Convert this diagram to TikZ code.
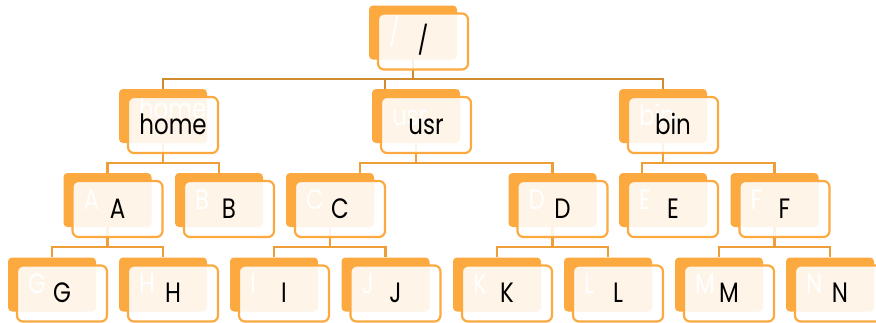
\documentclass[tikz,border=0pt]{standalone}
\usepackage{fontspec}
\setmainfont[FakeStretch=0.82]{Poppins}
\definecolor{boxorange}{RGB}{252,169,64}
\definecolor{trunkline}{RGB}{208,138,48}
\definecolor{branchline}{RGB}{238,158,56}
\newcommand\treefont{\fontsize{28}{28}\selectfont}

% back card with its pale echo of the name
% #1 node name, #2 x, #3 y, #4 text, #5 drop of the echo below the card centre
\newcommand\backcard[5]{%
  \node[backbox] (#1) at (#2,#3) {};
  \node[ghost] (#1-ghost) at ([xshift=20pt,yshift=-#5pt]#1.west) {#4};
}
% translucent front card carrying the name
\newcommand\frontcard[2]{%
  \node[frontbox] (#1-front) at ([xshift=10pt,yshift=-9pt]#1.center) {};
  \node[maintext] (#1-text) at ([yshift=-9pt]#1-front.center) {#2};
}

\begin{document}
\begin{tikzpicture}[x=1pt,y=-1pt,
  backbox/.style={rectangle,rounded corners=4pt,fill=boxorange,
    minimum width=88pt,minimum height=54pt,inner sep=0pt},
  frontbox/.style={rectangle,rounded corners=6pt,draw=boxorange,line width=2.2pt,
    fill=white,fill opacity=0.88,minimum width=90pt,minimum height=56pt,inner sep=0pt},
  ghost/.style={text=white,anchor=base west,inner sep=0pt,font=\treefont},
  maintext/.style={text=black,anchor=base,inner sep=0pt,font=\treefont},
  trunk/.style={draw=trunkline,line width=2.4pt},
  branch/.style={draw=branchline,line width=2.2pt},
]
\useasboundingbox (0,0) rectangle (876,322);
\clip (0,0) rectangle (876,322);

% ---- back cards ----
\backcard{root}{413}{32.5}{/}{9}
\backcard{home}{163}{116}{home}{2}
\backcard{usr}{416}{116}{usr}{9}
\backcard{bin}{663}{116}{bin}{9}
\backcard{A}{107.5}{200}{A}{9}
\backcard{B}{219}{200}{B}{9}
\backcard{C}{330}{200}{C}{9}
\backcard{D}{552.5}{200}{D}{9}
\backcard{E}{663}{200}{E}{9}
\backcard{F}{774.5}{200}{F}{9}
\backcard{G}{52}{284.5}{G}{9}
\backcard{H}{163}{284.5}{H}{9}
\backcard{I}{274}{284.5}{I}{9}
\backcard{J}{385.5}{284.5}{J}{9}
\backcard{K}{497}{284.5}{K}{9}
\backcard{L}{608}{284.5}{L}{9}
\backcard{M}{719}{284.5}{M}{9}
\backcard{N}{830}{284.5}{N}{9}

% ---- connectors ----
\coordinate (bus0) at (0,79);
\coordinate (bus1) at (0,163);
\coordinate (bus2) at (0,247);
\coordinate (usr-in) at ([xshift=-31pt]usr.north);
\coordinate (C-in) at ([xshift=30pt]C.north);
\coordinate (E-in) at ([xshift=-21pt]E.north);

\draw[trunk] (root.south) -- (root.south |- bus0) -| (home.north);
\draw[trunk] (root.south |- bus0) -| (usr-in);
\draw[trunk] (root.south |- bus0) -| (bin.north);

\draw[branch] (home.south) -- (home.south |- bus1) -| (A.north);
\draw[branch] (home.south |- bus1) -| (B.north);
\draw[branch] (usr.south) -- (usr.south |- bus1) -| (C-in);
\draw[branch] (usr.south |- bus1) -| (D.north);
\draw[branch] (bin.south) -- (bin.south |- bus1) -| (E-in);
\draw[branch] (bin.south |- bus1) -| (F.north);

\draw[branch] (A.south) -- (A.south |- bus2) -| (G.north);
\draw[branch] (A.south |- bus2) -| (H.north);
\draw[branch] (C.south) -- (C.south |- bus2) -| (I.north);
\draw[branch] (C.south |- bus2) -| (J.north);
\draw[branch] (D.south) -- (D.south |- bus2) -| (K.north);
\draw[branch] (D.south |- bus2) -| (L.north);
\draw[branch] (F.south) -- (F.south |- bus2) -| (M.north);
\draw[branch] (F.south |- bus2) -| (N.north);

% ---- front cards ----
\frontcard{root}{/}
\frontcard{home}{home}
\frontcard{usr}{usr}
\frontcard{bin}{bin}
\frontcard{A}{A}
\frontcard{B}{B}
\frontcard{C}{C}
\frontcard{D}{D}
\frontcard{E}{E}
\frontcard{F}{F}
\frontcard{G}{G}
\frontcard{H}{H}
\frontcard{I}{I}
\frontcard{J}{J}
\frontcard{K}{K}
\frontcard{L}{L}
\frontcard{M}{M}
\frontcard{N}{N}
\end{tikzpicture}
\end{document}
